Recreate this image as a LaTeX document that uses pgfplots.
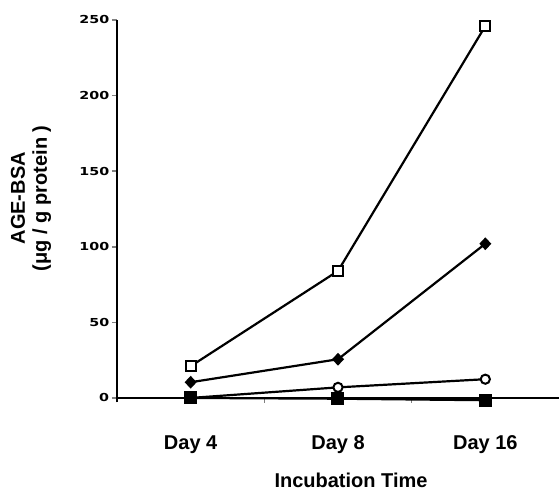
\documentclass[border=0pt]{standalone}
\usepackage{fontspec}
\setmainfont{Liberation Sans}
\newfontfamily\tickfont{DejaVu Sans Bold}[FakeStretch=1.3]
\usepackage{pgfplots}
\pgfplotsset{compat=1.18}
\begin{document}
\begin{tikzpicture}
\useasboundingbox (-58.5pt,-43.75pt) rectangle (221pt,201.25pt);
\begin{axis}[
  at={(0,0)}, anchor=south west,
  scale only axis, width=221pt, height=191.25pt,
  xmin=0.5, xmax=3.5, ymin=-3, ymax=250,
  axis x line*=middle, axis y line*=left,
  axis line style={line width=1pt},
  xtick={1,2,3}, xticklabels={Day 4,Day 8,Day 16},
  minor xtick={1.5,2.5},
  major x tick style={draw=none},
  minor x tick style={line width=0.8pt},
  minor tick length=2.5pt,
  ytick={0,50,100,150,200,250},
  major tick length=2.5pt,
  tick align=outside,
  y tick style={line width=0.8pt},
  xticklabel style={font=\bfseries\fontsize{10pt}{12pt}\selectfont, yshift=-13pt},
  yticklabel style={font=\tickfont\fontsize{5.5pt}{6pt}\selectfont, inner sep=1.2pt},
  /pgf/number format/assume math mode=true,
  clip=false,
  every axis plot/.append style={black, line width=1.1pt},
]
\addplot[mark=*, mark size=2.3pt, mark options={fill=white, line width=1pt}] coordinates {(1,0) (2,7) (3,12.4)};
\addplot[mark=square*, mark size=2.7pt] coordinates {(1,0) (2,-0.5) (3,-1.5)};
\addplot[mark=diamond*, mark size=2.4pt, mark options={xscale=1.25}] coordinates {(1,10.4) (2,25.6) (3,102)};
\addplot[mark=square*, mark size=2.5pt, mark options={fill=white, line width=1pt}] coordinates {(1,21) (2,84) (3,246)};
\node[rotate=90, align=center, font=\bfseries\fontsize{10pt}{11pt}\selectfont] at ([xshift=-43pt, yshift=6.5pt]rel axis cs:0,0.5) {AGE-BSA\\(μg / g protein )};
\node[anchor=base, font=\bfseries\fontsize{10pt}{12pt}\selectfont] at ([xshift=117pt,yshift=-42.5pt]rel axis cs:0,0) {Incubation Time};
\end{axis}
\end{tikzpicture}
\end{document}
